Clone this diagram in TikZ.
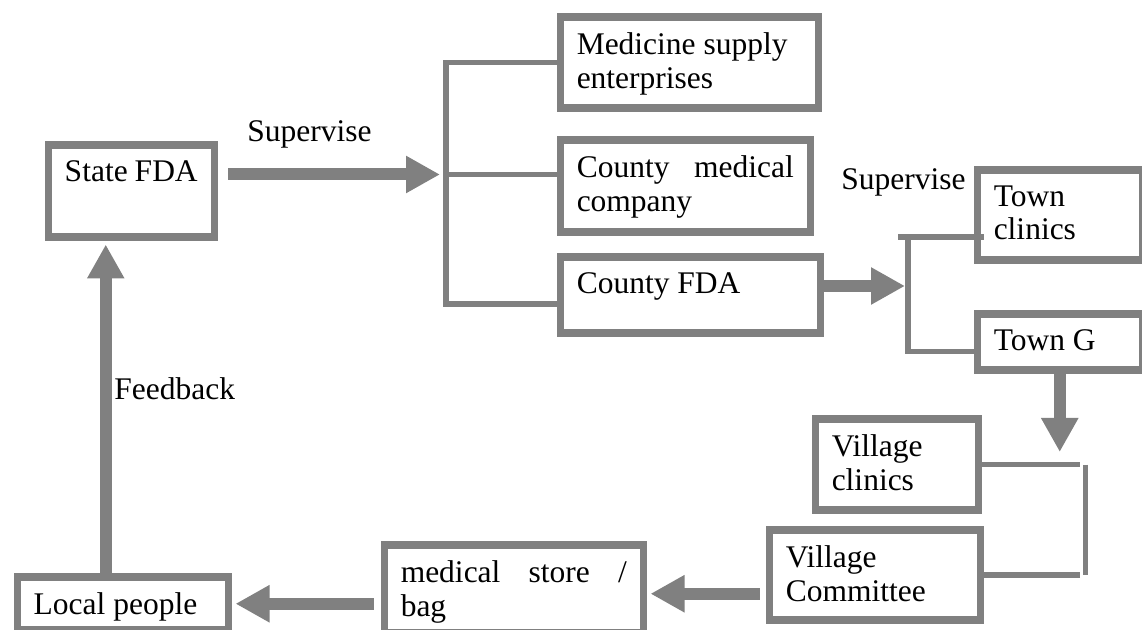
\documentclass[tikz,border=0pt]{standalone}
\usepackage{fontspec}
\setmainfont{Liberation Serif}
\usepackage{tikz}
\usetikzlibrary{arrows.meta,calc}
\definecolor{grayline}{RGB}{128,128,128}
\newcommand{\boxtxt}[3]{\parbox[t][#2][t]{#1}{#3}}

\begin{document}
\begin{tikzpicture}[x=0.5pt, y=-0.5pt,
    font=\fontsize{15.75pt}{16.75pt}\selectfont,
    box/.style = {draw=grayline, line width=3.75pt, inner xsep=8.25pt, inner ysep=7.75pt, anchor=north west},
    lbl/.style = {inner sep=0pt, anchor=base west},
    flow/.style = {draw=grayline, line width=6pt, -{Triangle[length=17pt,width=17.5pt]}},
    link/.style = {draw=grayline, line width=2.75pt}]

        \useasboundingbox (0,0) rectangle (1142,630);

        \node[box] (sfda) at (44.5,141.5) {\boxtxt{66.5pt}{30.5pt}{State~FDA}};
        \node[box] (med) at (556.5,13.5) {\boxtxt{112.5pt}{30pt}{Medicine supply\\enterprises}};
        \node[box] (cmc) at (556.5,136.5) {\boxtxt{108.5pt}{30.5pt}{County\hfill medical\\company}};
        \node[box] (cfda) at (556.5,253.5) {\boxtxt{113.5pt}{22.5pt}{County FDA}};
        \node[box] (tcl) at (973.5,166.5) {\boxtxt{66pt}{29.5pt}{Town\\clinics}};
        \node[box] (tg) at (973.5,310.5) {\boxtxt{66pt}{12.5pt}{Town G}};
        \node[box] (vcl) at (811.5,415.5) {\boxtxt{65pt}{30pt}{Village\\clinics}};
        \node[box] (vcom) at (765.5,526.5) {\boxtxt{89pt}{29.5pt}{Village\\Committee}};
        \node[box] (mst) at (380.5,541.5) {\boxtxt{113pt}{28.25pt}{medical\hfill store\hfill /\\bag}};
        \node[box] (lp) at (13.5,573.5) {\boxtxt{89pt}{11pt}{Local people}};

        \node[lbl] (sup1) at (247,142) {Supervise};
        \node[lbl] (sup2) at (841,190) {Supervise};
        \node[lbl] (fbk) at (114,400) {Feedback};

        % bracket points
        \coordinate (b1) at (446,174.5);
        \coordinate (b2) at (908,286);
        \coordinate (b3) at (1085.5,452);
        \coordinate (a4) at ($(vcom.west)+(-6,18.5)$);
        \coordinate (fb0) at ([xshift=-8.5pt]lp.north);

        \draw[flow] ($(sfda.east |- b1)+(10,0)$) -- ([xshift=-3pt]b1);
        \draw[link] (med.west) -| (b1) |- ($(cfda.west)+(0,9)$);
        \draw[link] (b1) -- (b1 -| cmc.west);

        \draw[flow] (cfda.east |- b2) -- ([xshift=-1.5pt]b2);
        \draw[link] ($(tcl.west)+(10,22)$) -- ($(tcl.west -| b2)+(-10,22)$);
        \draw[link] ($(tcl.west -| b2)+(0,22)$) -- (b2) |- ($(tg.west)+(0,9.5)$);

        \draw[flow] (tg.south) -- (tg.south |- b3);
        \draw[link] (vcl.east) -- ($(vcl.east -| b3)+(-6,0)$);
        \draw[link] (vcom.east) -- ($(vcom.east -| b3)+(-6,0)$);
        \draw[link] (vcl.east -| b3) -- (vcom.east -| b3);

        \draw[flow] (a4) -- ($(a4 -| mst.east)+(3.5,0)$);
        \draw[flow] ($(mst.west |- lp.east)+(-7,0)$) -- ($(lp.east)+(3.5,0)$);
        \draw[flow] (fb0) -- ($(fb0 |- sfda.south)+(0,3.5)$);

\end{tikzpicture}
\end{document}
